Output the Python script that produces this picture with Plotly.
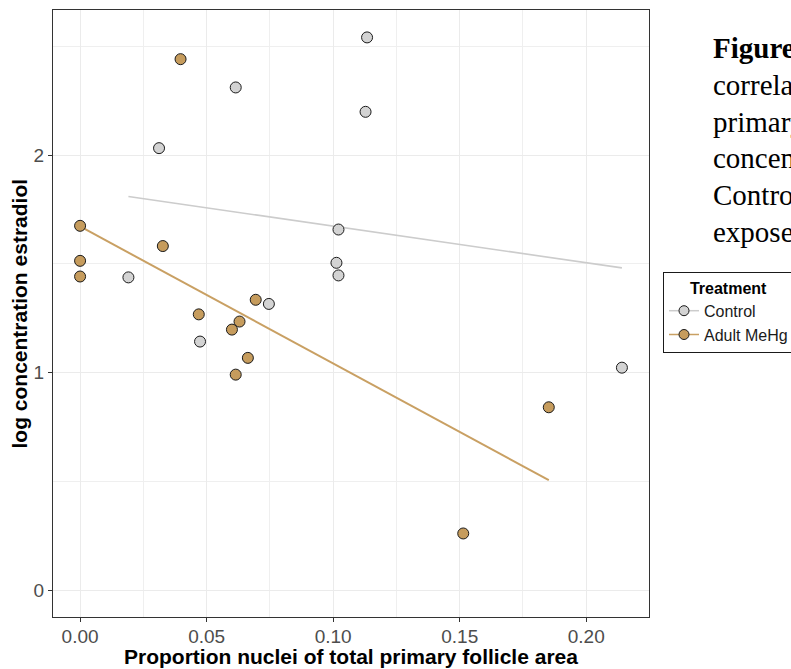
import numpy as np
import plotly.graph_objects as go

# Control group
control_x = [0.1134, 0.0615, 0.1128, 0.0312, 0.1021, 0.1013, 0.1021, 0.0191, 0.0746, 0.0474, 0.2141]
control_y = [2.541, 2.311, 2.199, 2.032, 1.658, 1.505, 1.447, 1.438, 1.316, 1.143, 1.023]

# Adult MeHg group
mehg_x = [0.0397, 0.0, 0.0327, 0.0, 0.0, 0.0694, 0.0469, 0.0630, 0.0600, 0.0663, 0.0615, 0.1852, 0.1514]
mehg_y = [2.441, 1.675, 1.582, 1.514, 1.442, 1.335, 1.268, 1.235, 1.198, 1.068, 0.991, 0.841, 0.261]

x_ticks = [0.00, 0.05, 0.10, 0.15, 0.20]
x_tick_labels = ["0.00", "0.05", "0.10", "0.15", "0.20"]
y_ticks = [0, 1, 2]
y_tick_labels = ["0", "1", "2"]

caption_lines = ["<b>Figure</b>", "correlation", "primary", "concentration", "Control", "exposed"]

groups = [
    ("Control", control_x, control_y, "#D3D3D3", "#CCCCCC", 1.6),
    ("Adult MeHg", mehg_x, mehg_y, "#C69C5D", "#C9A063", 2.0),
]

SANS = "Liberation Sans, Arial, sans-serif"
SERIF = "Liberation Serif, Times New Roman, serif"

fig = go.Figure()

# least-squares fit lines, drawn beneath the points
for name, xs, ys, fill, lcol, lw in groups:
    xs_a = np.array(xs)
    ys_a = np.array(ys)
    slope, intercept = np.polyfit(xs_a, ys_a, 1)
    fx = np.linspace(xs_a.min(), xs_a.max(), 50)
    fig.add_trace(go.Scatter(
        x=fx, y=slope * fx + intercept, mode="lines",
        line=dict(color=lcol, width=lw), showlegend=False, hoverinfo="skip",
    ))

for name, xs, ys, fill, lcol, lw in groups:
    fig.add_trace(go.Scatter(
        x=xs, y=ys, mode="markers", name=name, showlegend=False,
        marker=dict(size=11, color=fill, line=dict(color="#1a1a1a", width=1)),
    ))

# legend keys: point with a line through it
for name, xs, ys, fill, lcol, lw in groups:
    fig.add_trace(go.Scatter(
        x=[None], y=[None], mode="lines+markers", name=name,
        line=dict(color=lcol, width=1.5),
        marker=dict(size=10, color=fill, line=dict(color="#1a1a1a", width=1)),
    ))

axis_common = dict(
    showline=True, mirror=True, linecolor="#333333", linewidth=1,
    showgrid=True, gridcolor="#EBEBEB", gridwidth=1.1,
    ticks="outside", ticklen=4, tickcolor="#333333", tickwidth=1,
    tickfont=dict(family=SANS, size=19, color="#4D4D4D"),
    zeroline=False,
)

fig.update_xaxes(
    range=[-0.0107, 0.2248], tickvals=x_ticks, ticktext=x_tick_labels,
    ticklabelstandoff=-2,
    minor=dict(dtick=0.025, tick0=0.025, showgrid=True, gridcolor="#EFEFEF", gridwidth=0.7, ticks=""),
    **axis_common,
)
fig.update_yaxes(
    range=[-0.123, 2.667], tickvals=y_ticks, ticktext=y_tick_labels,
    minor=dict(dtick=0.5, tick0=0.5, showgrid=True, gridcolor="#EFEFEF", gridwidth=0.7, ticks=""),
    **axis_common,
)

annotations = [
    dict(text="<b>Proportion nuclei of total primary follicle area</b>", xref="paper", yref="paper",
         x=0.5, y=-0.0645, xanchor="center", yanchor="middle", showarrow=False,
         font=dict(family=SANS, size=21, color="black")),
    dict(text="<b>log concentration estradiol</b>", xref="paper", yref="paper",
         x=-0.0554, y=0.5, xanchor="center", yanchor="middle", showarrow=False, textangle=-90,
         font=dict(family=SANS, size=21, color="black")),
]
for i, line in enumerate(caption_lines):
    annotations.append(dict(
        text=line, xref="paper", yref="paper", x=(711 - 53) / 596, y=1 - (48 + 36.8 * i - 10) / 607,
        xanchor="left", yanchor="middle", showarrow=False, align="left",
        font=dict(family=SERIF, size=29, color="black"),
    ))

fig.update_layout(
    width=791, height=669,
    margin=dict(l=53, r=142, t=10, b=52, autoexpand=False),
    paper_bgcolor="white", plot_bgcolor="white",
    annotations=annotations,
    legend=dict(
        x=1.0235, y=1 - (272 - 10) / 607, xanchor="left", yanchor="top",
        bgcolor="white", bordercolor="#1a1a1a", borderwidth=1,
        font=dict(family=SANS, size=16, color="#1a1a1a"),
        title=dict(text="<b>Treatment</b>", side="top center", font=dict(family=SANS, size=16, color="black")),
        tracegroupgap=0, itemwidth=30,
    ),
)

fig.write_html("out.html")
